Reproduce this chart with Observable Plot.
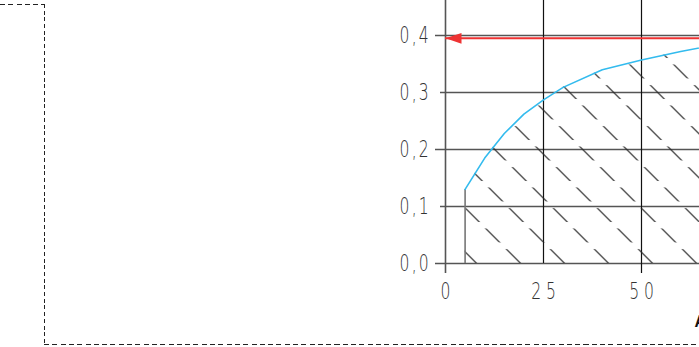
<!DOCTYPE html>
<html>
<head>
<meta charset="utf-8">
<script src="https://cdn.jsdelivr.net/npm/d3@7"></script>
<script src="https://cdn.jsdelivr.net/npm/@observablehq/plot@0.6"></script>
<style>
  html, body { margin: 0; padding: 0; background: #fff; overflow: hidden; }
  #wrap { position: relative; width: 699px; height: 347px; overflow: hidden; }
  #chart svg { display: block; }
  .edge { position: absolute; }
  #edgeTop { left: 0; top: 4px; width: 44px; height: 1.3px;
    background: repeating-linear-gradient(to right, #222 0 5px, transparent 5px 8.3px); }
  #edgeLeft { left: 44px; top: 4px; width: 1.3px; height: 341px;
    background: repeating-linear-gradient(to bottom, #222 0 4px, transparent 4px 6.7px); }
  #edgeBottom { left: 44px; top: 344px; width: 660px; height: 1.3px;
    background: repeating-linear-gradient(to right, #222 0 5px, transparent 5px 8.3px); }
</style>
</head>
<body>
<svg width="0" height="0" style="position:absolute">
  <defs>
    <pattern id="hatch" patternUnits="userSpaceOnUse" width="44" height="20.5"
             patternTransform="matrix(1,0,1,1,0,0)">
      <line x1="37.3" y1="3" x2="37.3" y2="17" stroke="#262626" stroke-width="1.6"></line>
    </pattern>
  </defs>
</svg>
<div id="wrap">
  <div id="chart"></div>
  <div class="edge" id="edgeTop"></div>
  <div class="edge" id="edgeLeft"></div>
  <div class="edge" id="edgeBottom"></div>
</div>
<script>
// ---- data ----
const xTicks = [0, 25, 50];
const yTicks = [0, 0.1, 0.2, 0.3, 0.4];
const xMax = 75;
const curveX = [5, 10, 15, 20, 25, 30, 40, 50, 60, 70, 75];
const curveY = [0.13, 0.185, 0.228, 0.262, 0.287, 0.309, 0.340, 0.357, 0.372, 0.385, 0.390];
const limitY = [0.395];
const axisLabel = ["A"];

const curve = curveX.map((x, i) => ({x, y: curveY[i]}));
const fmtY = d => d.toFixed(1).replace(".", ",");

const arrowHead = {
  draw(ctx) {
    ctx.moveTo(0, 0);
    ctx.lineTo(16, -5.3);
    ctx.lineTo(16, 5.3);
    ctx.closePath();
  }
};

const plot = Plot.plot({
  width: 699,
  height: 347,
  marginLeft: 435,
  marginRight: 0,
  marginTop: 0,
  marginBottom: 74,
  x: {domain: [0, xMax], range: [445, 739], axis: null},
  y: {domain: [0, 0.4], range: [263, 35], axis: null},
  style: {background: "transparent", fontFamily: "DejaVu Sans", color: "#333"},
  marks: [
    // horizontal grid (major/minor)
    Plot.ruleY(yTicks, {filter: (d, i) => i % 2 === 0, stroke: "#555", strokeWidth: 1.6}),
    Plot.ruleY(yTicks, {filter: (d, i) => i % 2 === 1, stroke: "#555", strokeWidth: 1.6, insetLeft: 5}),
    // vertical grid
    Plot.ruleX(xTicks, {filter: (d, i) => i === 0, stroke: "#555", strokeWidth: 1.6}),
    Plot.ruleX(xTicks, {filter: (d, i) => i > 0 && i % 2 === 0, stroke: "#111", strokeWidth: 1.2}),
    Plot.ruleX(xTicks, {filter: (d, i) => i % 2 === 1, stroke: "#111", strokeWidth: 1.2, insetBottom: 10}),
    // hatched region under the curve
    Plot.areaY(curve, {x: "x", y: "y", fill: "url(#hatch)"}),
    Plot.ruleX(curve.slice(0, 1), {x: "x", y1: 0, y2: "y", stroke: "#777", strokeWidth: 1.6}),
    // curve
    Plot.line(curve, {x: "x", y: "y", stroke: "#33bbee", strokeWidth: 1.6}),
    // limit arrow
    Plot.ruleY(limitY, {x1: xTicks[0], x2: xMax, stroke: "#ee3333", strokeWidth: 2}),
    Plot.dot(limitY, {x: xTicks[0], y: d => d, symbol: arrowHead, fill: "#ee3333", stroke: "none"}),
    // tick labels
    Plot.text(yTicks, {frameAnchor: "left", y: d => d, text: fmtY,
      textAnchor: "start", dx: -36, fontSize: 23, fontWeight: 200, fill: "#333"}),
    Plot.text(xTicks, {x: d => d, y: yTicks[0], text: d => String(d),
      dx: 2.5, dy: 28, fontSize: 23, fontWeight: 200, fill: "#333"}),
    Plot.text(axisLabel, {frameAnchor: "bottom-right", textAnchor: "start", lineAnchor: "bottom",
      dx: -5, dy: 53, fontSize: 16, fontWeight: "bold", fontFamily: "Liberation Sans", fill: "#111"})
  ]
});
document.getElementById("chart").appendChild(plot);

// narrow, spaced lettering like the drawing's technical font
const textGroups = plot.querySelectorAll('g[aria-label="text"]');
const labelStyles = [{scale: 0.68, spacing: 3.25}, {scale: 0.68, spacing: 7.2}];
labelStyles.forEach((s, k) => {
  const g = textGroups[k];
  if (!g) return;
  g.querySelectorAll("text").forEach(t => {
    const tr = t.getAttribute("transform") || "";
    t.setAttribute("transform", tr + ` scale(${s.scale},1)`);
    t.setAttribute("letter-spacing", s.spacing);
  });
});
</script>
</body>
</html>
